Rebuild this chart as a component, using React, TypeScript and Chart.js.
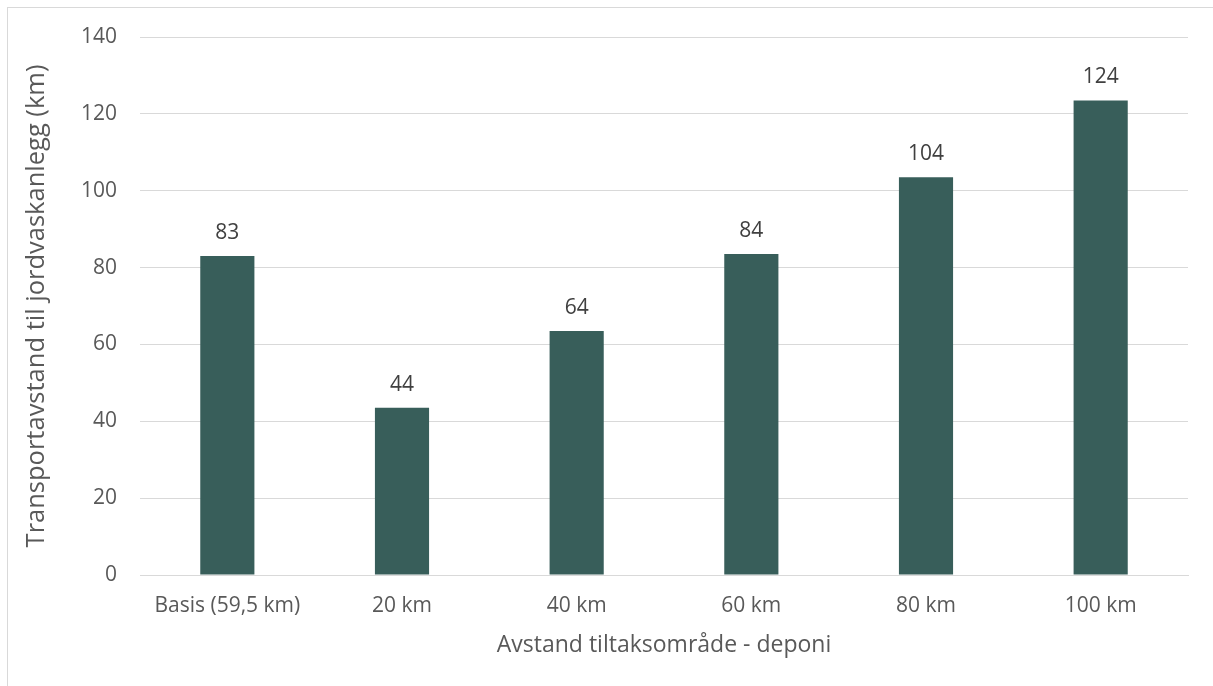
import React, { useEffect, useRef } from "react";
import { Chart, registerables } from "chart.js";

Chart.register(...registerables);

const categories = ["Basis (59,5 km)", "20 km", "40 km", "60 km", "80 km", "100 km"];
const values = [83, 43.5, 63.5, 83.5, 103.5, 123.5];
const yTicks = [0, 20, 40, 60, 80, 100, 120, 140];

const FONT = "'Open Sans', sans-serif";
const TICK_SIZE = 21;
const X_TITLE_SIZE = 23;
const Y_TITLE_SIZE = 25.5;

const labelPlugin = {
  id: "barLabels",
  afterDatasetsDraw(chart: any) {
    const ctx = chart.ctx;
    const meta = chart.getDatasetMeta(0);
    ctx.save();
    ctx.font = `${TICK_SIZE}px ${FONT}`;
    ctx.fillStyle = "#404040";
    ctx.textAlign = "center";
    ctx.textBaseline = "middle";
    meta.data.forEach((bar: any, i: number) => {
      ctx.fillText(String(Math.round(values[i])), bar.x, bar.y - 23);
    });
    ctx.restore();
  },
};

export default function App() {
  const ref = useRef<HTMLCanvasElement>(null);
  useEffect(() => {
    if (!ref.current) return;
    const chart = new Chart(ref.current, {
      type: "bar",
      data: {
        labels: categories,
        datasets: [
          {
            data: values,
            backgroundColor: "#385E5A",
            barPercentage: 0.31,
            categoryPercentage: 1,
          },
        ],
      },
      options: {
        responsive: false,
        animation: false,
        layout: { padding: { left: 0, right: 25, top: 37, bottom: 0 } },
        plugins: { legend: { display: false }, tooltip: { enabled: false } },
        scales: {
          x: {
            grid: { display: false, drawTicks: false },
            border: { display: true, color: "#d9d9d9", width: 1 },
            ticks: { color: "#595959", font: { family: FONT, size: TICK_SIZE }, padding: 18, maxRotation: 0 },
            title: {
              display: true,
              text: "Avstand tiltaksområde - deponi",
              color: "#595959",
              font: { family: FONT, size: X_TITLE_SIZE },
              padding: { top: 0, bottom: 27 },
            },
            afterFit: (s: any) => {
              s.height = 111;
            },
          },
          y: {
            min: 0,
            max: 140,
            grid: { color: "#d9d9d9", drawTicks: false },
            border: { display: false },
            ticks: {
              stepSize: 20,
              color: "#595959",
              font: { family: FONT, size: TICK_SIZE },
              padding: 23,
              callback: (v: any) => (yTicks.includes(v) ? String(v) : ""),
            },
            title: {
              display: true,
              text: "Transportavstand til jordvaskanlegg (km)",
              color: "#595959",
              font: { family: FONT, size: Y_TITLE_SIZE },
              padding: { top: 21, bottom: 0 },
            },
            afterFit: (s: any) => {
              s.width = 140;
            },
          },
        },
      },
      plugins: [labelPlugin],
    });
    return () => chart.destroy();
  }, []);
  return (
    <div>
      <div
        style={{
          position: "absolute",
          left: 7,
          top: 7,
          width: 1240,
          height: 720,
          border: "1px solid #d9d9d9",
          boxSizing: "border-box",
        }}
      />
      <canvas
        ref={ref}
        width={1213}
        height={686}
        style={{ position: "absolute", left: 0, top: 0, width: 1213, height: 686 }}
      />
    </div>
  );
}
